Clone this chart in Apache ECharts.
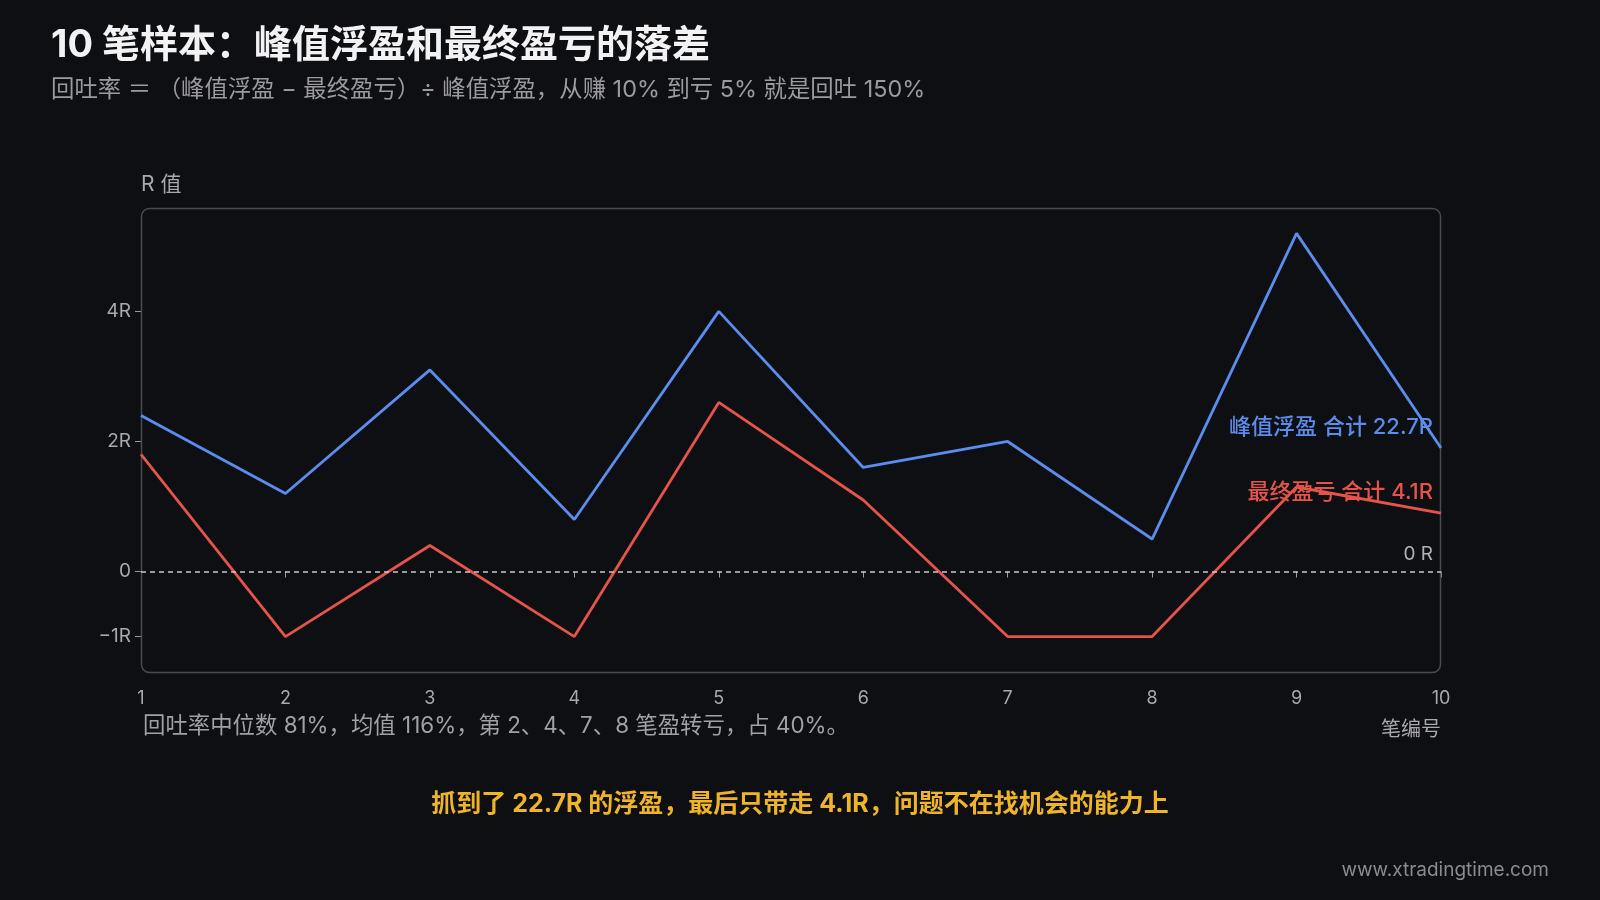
<!DOCTYPE html>
<html>
<head>
<meta charset="utf-8">
<script src="https://cdn.jsdelivr.net/npm/echarts@6/dist/echarts.min.js"></script>
<style>
html,body{margin:0;padding:0;background:#0e0f13;}
#chart{width:1600px;height:900px;}
</style>
</head>
<body>
<div id="chart"></div>
<script>
const trades = ['1','2','3','4','5','6','7','8','9','10'];
const peakR = [2.4, 1.2, 3.1, 0.8, 4.0, 1.6, 2.0, 0.5, 5.2, 1.9];
const finalR = [1.8, -1, 0.4, -1, 2.6, 1.1, -1, -1, 1.3, 0.9];
const yTicks = [-1, 0, 2, 4];

const FONT = 'Inter, "Noto Sans CJK SC", "Noto Sans", sans-serif';
const sum = a => a.reduce((s, v) => s + v, 0);
const peakTotal = sum(peakR).toFixed(1);
const finalTotal = sum(finalR).toFixed(1);

const chart = echarts.init(document.getElementById('chart'));
const fmtR = v => v === 0 ? '0' : (v < 0 ? '\u2212' + Math.abs(v) + 'R' : v + 'R');

chart.setOption({
  backgroundColor: '#0e0f13',
  animation: false,
  textStyle: { fontFamily: FONT },
  grid: { left: 141, right: 159, top: 208, bottom: 227, containLabel: false },
  xAxis: {
    type: 'category',
    data: trades,
    boundaryGap: false,
    axisLine: { show: false },
    axisTick: { show: true, alignWithLabel: true, length: 6, lineStyle: { color: '#9a9aa0', width: 1 } },
    axisLabel: { color: '#a8a8ae', fontSize: 18, margin: 17, fontFamily: FONT },
    splitLine: { show: false }
  },
  yAxis: {
    type: 'value',
    min: -1.56,
    max: 5.59,
    axisLine: { show: false },
    splitLine: { show: false },
    axisTick: { show: true, length: 6, customValues: yTicks, lineStyle: { color: '#9a9aa0', width: 1 } },
    axisLabel: { color: '#a8a8ae', fontSize: 19, margin: 10, customValues: yTicks, formatter: fmtR, fontFamily: FONT }
  },
  graphic: [
    { type: 'rect', shape: { x: 141.5, y: 208.5, width: 1299, height: 464, r: 8 }, style: { fill: 'none', stroke: '#4a4b52', lineWidth: 1.5 }, z: 1 },
    { type: 'text', left: 51, top: 27, style: { text: '10 笔样本：峰值浮盈和最终盈亏的落差', fill: '#f2f2f4', font: 'bold 38px ' + FONT } },
    { type: 'text', left: 51, top: 78, style: { text: '回吐率 ＝ （峰值浮盈 − 最终盈亏）÷ 峰值浮盈，从赚 10% 到亏 5% 就是回吐 150%', fill: '#9a9aa0', font: '23.4px ' + FONT } },
    { type: 'text', left: 141, top: 174, style: { text: 'R 值', fill: '#a8a8ae', font: '21px ' + FONT } },
    { type: 'text', right: 1600 - 1441, top: 720, style: { text: '笔编号', fill: '#a8a8ae', font: '20px ' + FONT } },
    { type: 'text', x: 1433, y: 427, style: { text: '峰值浮盈 合计 ' + peakTotal + 'R', fill: '#5b8def', font: '500 22px ' + FONT, align: 'right', verticalAlign: 'middle' }, z: 10 },
    { type: 'text', x: 1433, y: 492, style: { text: '最终盈亏 合计 ' + finalTotal + 'R', fill: '#e5534b', font: '500 22px ' + FONT, align: 'right', verticalAlign: 'middle' }, z: 10 },
    { type: 'text', left: 143, top: 715, style: { text: '回吐率中位数 81%，均值 116%，第 2、4、7、8 笔盈转亏，占 40%。', fill: '#a0a0a6', font: '22.4px ' + FONT } },
    { type: 'text', x: 800, y: 804, style: { text: '抓到了 22.7R 的浮盈，最后只带走 4.1R，问题不在找机会的能力上', fill: '#f0b429', font: 'bold 25px ' + FONT, align: 'center', verticalAlign: 'middle' } },
    { type: 'text', x: 1549, y: 870, style: { text: 'www.xtradingtime.com', fill: '#8a8a90', font: '19px ' + FONT, align: 'right', verticalAlign: 'middle' } }
  ],
  series: [
    {
      name: '峰值浮盈', type: 'line', data: peakR, showSymbol: false, symbol: 'none',
      lineStyle: { color: '#5b8def', width: 2.8 }, z: 3,
      markLine: {
        silent: true, symbol: 'none',
        lineStyle: { color: '#c8c8cc', type: [5, 4], width: 1.5 },
        label: { show: true, position: 'insideEndTop', formatter: '0 R', color: '#b0b0b6', fontSize: 19, fontFamily: FONT, distance: [8, 8] },
        data: [{ yAxis: 0 }]
      }
    },
    {
      name: '最终盈亏', type: 'line', data: finalR, showSymbol: false, symbol: 'none',
      lineStyle: { color: '#e5534b', width: 2.8 }, z: 4
    }
  ]
});
</script>
</body>
</html>
